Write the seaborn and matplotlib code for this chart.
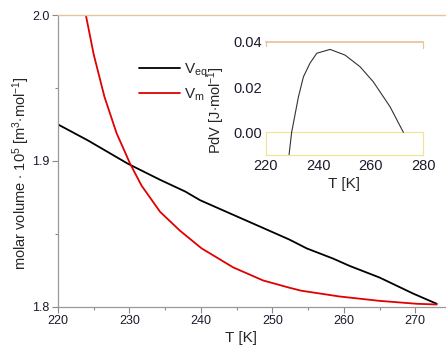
import matplotlib
matplotlib.use("Agg")
import matplotlib.pyplot as plt
import seaborn as sns
import pandas as pd
from matplotlib.lines import Line2D

# ---- data ----
T_eq = [220.0, 224.2, 229.8, 234.3, 237.8, 239.9, 243.6, 248.7, 252.4, 254.8, 258.5, 260.8, 265.0, 269.7, 273.0]
V_eq = [1.925, 1.914, 1.898, 1.887, 1.879, 1.873, 1.865, 1.854, 1.846, 1.840, 1.833, 1.828, 1.820, 1.809, 1.802]

T_m = [223.9, 225.0, 226.5, 228.2, 230.1, 231.7, 234.3, 237.1, 240.1, 244.5, 248.7, 252.4, 254.0, 259.4, 265.0, 270.2, 273.0]
V_m = [2.000, 1.973, 1.944, 1.919, 1.898, 1.883, 1.865, 1.852, 1.840, 1.827, 1.818, 1.813, 1.811, 1.807, 1.804, 1.802, 1.8015]

T_pdv = [228.8, 229.8, 232.4, 234.3, 236.8, 239.4, 244.5, 250.2, 255.9, 261.0, 267.4, 272.5]
PdV = [-0.010, 0.000, 0.0157, 0.0245, 0.0305, 0.0349, 0.0366, 0.0341, 0.0290, 0.0223, 0.0113, 0.000]

main_xticks = [220, 230, 240, 250, 260, 270]
main_yticks = [1.8, 1.9, 2.0]
inset_xticks = [220, 240, 260, 280]
inset_yticks = [0.00, 0.02, 0.04]
series_labels = [r"$\mathrm{V}_{\mathrm{eq}}$", r"$\mathrm{V}_{\mathrm{m}}$"]

sns.set_theme(style="white")
plt.rcParams["font.family"] = ["Liberation Sans", "DejaVu Sans"]
plt.rcParams["mathtext.fontset"] = "custom"
plt.rcParams["mathtext.rm"] = "Liberation Sans"
plt.rcParams["mathtext.it"] = "Liberation Sans:italic"

df_eq = pd.DataFrame({"T": T_eq, "V": V_eq})
df_m = pd.DataFrame({"T": T_m, "V": V_m})
df_p = pd.DataFrame({"T": T_pdv, "P": PdV})

fig = plt.figure(figsize=(4.46, 3.48), dpi=100)
ax = fig.add_axes([0.130, 0.1187, 0.870, 0.838])

sns.lineplot(data=df_eq, x="T", y="V", ax=ax, color="black", lw=1.3, sort=False, estimator=None)
sns.lineplot(data=df_m, x="T", y="V", ax=ax, color="#e00000", lw=1.3, sort=False, estimator=None)

ax.set_xlim(220, 274.3)
ax.set_ylim(1.8, 2.0)
ax.set_xticks(main_xticks)
ax.set_xticklabels([str(t) for t in main_xticks])
ax.set_yticks(main_yticks)
ax.set_yticklabels([f"{t:.1f}" for t in main_yticks])
ax.set_xticks([225, 235, 245, 255, 265], minor=True)
ax.set_yticks([1.85, 1.95], minor=True)
ax.tick_params(axis="both", which="major", direction="out", length=4, width=0.8,
               color="#888888", labelsize=9, labelcolor="#1a1a2a", pad=2, left=True, bottom=True)
ax.tick_params(axis="both", which="minor", direction="out", length=2.5, width=0.8,
               color="#888888", left=True, bottom=True)

for s in ["left", "bottom"]:
    ax.spines[s].set_color("#999999")
    ax.spines[s].set_linewidth(0.9)
ax.spines["top"].set_color("#e8c49a")
ax.spines["top"].set_linewidth(1.0)
ax.spines["right"].set_visible(False)

ax.set_xlabel("T [K]", fontsize=11)
ax.set_ylabel(r"molar volume $\cdot$ 10$^5$ [m$^3$$\cdot$mol$^{-1}$]", fontsize=10.5)
ax.xaxis.set_label_coords(0.472, -0.085)
ax.yaxis.set_label_coords(-0.068, 0.458)

handles = [Line2D([], [], color="black", lw=1.3), Line2D([], [], color="#e00000", lw=1.3)]
fig.legend(handles, series_labels, loc="upper left", bbox_to_anchor=(131 / 446, 1 - 54 / 348),
           frameon=False, fontsize=11, handlelength=2.7, handletextpad=0.3,
           borderpad=0, labelspacing=0.45)

# ---- inset ----
axi = fig.add_axes([266 / 446, 1 - 155 / 348, 157 / 446, 113.3 / 348])
axi.patch.set_alpha(0)
sns.lineplot(data=df_p, x="T", y="P", ax=axi, color="#333333", lw=0.8, sort=False, estimator=None)
axi.set_xlim(220, 280)
axi.set_ylim(-0.01, 0.04)
axi.set_xticks(inset_xticks)
axi.set_xticklabels([str(t) for t in inset_xticks])
axi.set_yticks(inset_yticks)
axi.set_yticklabels([f"{t:.2f}" for t in inset_yticks])
axi.tick_params(axis="both", which="major", length=0, labelsize=10.5, labelcolor="#1a1a2a", pad=3)
axi.axhline(0, color="#f0e49a", lw=0.9, zorder=0)
axi.spines["top"].set_color("#e8c49a")
for s in ["left", "right"]:
    axi.spines[s].set_bounds(-0.01, 0.0)
    axi.spines[s].set_color("#f0e49a")
    axi.spines[s].set_linewidth(0.9)
axi.spines["bottom"].set_color("#f0e49a")
axi.spines["bottom"].set_linewidth(0.9)
axi.plot([280, 280], [0.04, 0.037], color="#e8c49a", lw=0.9, clip_on=False)
axi.plot([220, 220], [0.04, 0.038], color="#e8c49a", lw=0.9, clip_on=False)
axi.set_xlabel("T [K]", fontsize=11, labelpad=3)
axi.set_ylabel(r"PdV [J$\cdot$mol$^{-1}$]", fontsize=10.5)
axi.yaxis.set_label_coords(-0.25, 0.40)

fig.savefig("out.png", dpi=100)
